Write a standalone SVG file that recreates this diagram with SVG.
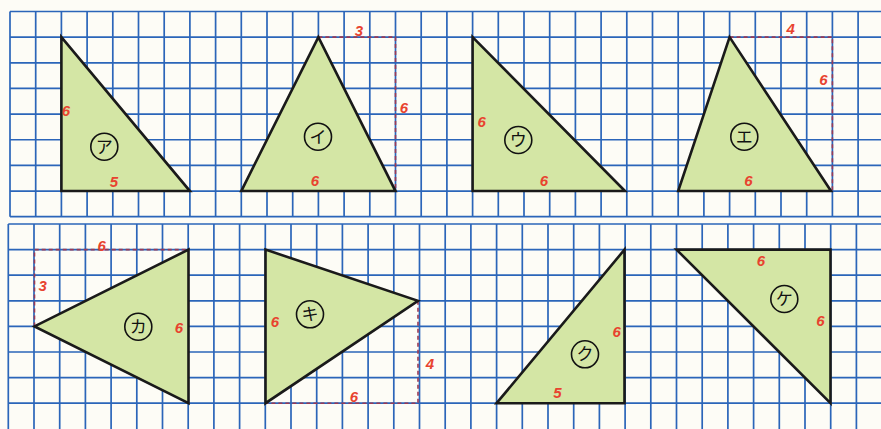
<svg xmlns="http://www.w3.org/2000/svg" width="881" height="429" viewBox="0 0 881 429">
<style>
.grid{fill:none;stroke:#2b65b9;stroke-width:1.7}
.tri{fill:#d4e6a5;stroke:#1a1a1a;stroke-width:2.6;stroke-linejoin:miter}
.num{font-family:"Liberation Sans",Arial,sans-serif;font-size:15px;font-weight:bold;font-style:italic;fill:#e8432f;text-anchor:middle}
.ring{fill:none;stroke:#111;stroke-width:1.6}
.kana{font-family:"Noto Sans CJK JP","Noto Sans",sans-serif;font-size:17px;fill:#111;text-anchor:middle}
.guide{fill:none;stroke:#9a3a55;stroke-width:1.6;stroke-dasharray:4 3}
</style>
<rect x="0" y="0" width="881" height="429" fill="#fdfcf6"/>
<g id="grid-top" class="grid">
<path d="M10,11.5H881M10,37.15H881M10,62.8H881M10,88.45H881M10,114.1H881M10,139.75H881M10,165.4H881M10,191.05H881M10,216.7H881"/>
<path d="M10,11.5V216.7M35.7,11.5V216.7M61.4,11.5V216.7M87.1,11.5V216.7M112.8,11.5V216.7M138.5,11.5V216.7M164.2,11.5V216.7M189.9,11.5V216.7M215.6,11.5V216.7M241.3,11.5V216.7M267,11.5V216.7M292.7,11.5V216.7M318.4,11.5V216.7M344.1,11.5V216.7M369.8,11.5V216.7M395.5,11.5V216.7M421.2,11.5V216.7M446.9,11.5V216.7M472.6,11.5V216.7M498.3,11.5V216.7M524,11.5V216.7M549.7,11.5V216.7M575.4,11.5V216.7M601.1,11.5V216.7M626.8,11.5V216.7M652.5,11.5V216.7M678.2,11.5V216.7M703.9,11.5V216.7M729.6,11.5V216.7M755.3,11.5V216.7M781,11.5V216.7M806.7,11.5V216.7M832.4,11.5V216.7M858.1,11.5V216.7"/>
</g>
<g id="grid-bottom" class="grid">
<path d="M8.3,224H881M8.3,249.6H881M8.3,275.2H881M8.3,300.8H881M8.3,326.4H881M8.3,352H881M8.3,377.6H881M8.3,403.2H881"/>
<path d="M8.3,224V429M34,224V429M59.7,224V429M85.4,224V429M111.1,224V429M136.8,224V429M162.5,224V429M188.2,224V429M213.9,224V429M239.6,224V429M265.3,224V429M291,224V429M316.7,224V429M342.4,224V429M368.1,224V429M393.8,224V429M419.5,224V429M445.2,224V429M470.9,224V429M496.6,224V429M522.3,224V429M548,224V429M573.7,224V429M599.4,224V429M625.1,224V429M650.8,224V429M676.5,224V429M702.2,224V429M727.9,224V429M753.6,224V429M779.3,224V429M805,224V429M830.7,224V429M856.4,224V429"/>
</g>
<g id="guides">
<path class="guide" d="M318.4,37.15H395.5V191.05"/>
<path class="guide" d="M729.6,37.15H832.4V191.05"/>
<path class="guide" d="M34.5,326.4V249.6H188.5"/>
<path class="guide" d="M418,300.8V403.2H265.5"/>
</g>
<g id="tri-a">
<polygon class="tri" points="61.4,37.15 61.4,191.05 189.9,191.05"/>
<text class="num" x="66" y="115.5">6</text>
<text class="num" x="114" y="186.5">5</text>
<circle class="ring" cx="104.3" cy="146.7" r="13.5"/>
<text class="kana" x="104.3" y="152.7">ア</text>
</g>
<g id="tri-i">
<polygon class="tri" points="318.4,37.15 241.3,191.05 395.5,191.05"/>
<text class="num" x="315" y="185.5">6</text>
<text class="num" x="359" y="36">3</text>
<text class="num" x="404" y="112.5">6</text>
<circle class="ring" cx="318" cy="136.7" r="13.5"/>
<text class="kana" x="318" y="142.7">イ</text>
</g>
<g id="tri-u">
<polygon class="tri" points="472.6,37.15 472.6,191.05 625,191.05"/>
<text class="num" x="481.7" y="127">6</text>
<text class="num" x="544" y="185.5">6</text>
<circle class="ring" cx="518.3" cy="140" r="13.5"/>
<text class="kana" x="518.3" y="146">ウ</text>
</g>
<g id="tri-e">
<polygon class="tri" points="729.6,37.15 678.2,191.05 831,191.05"/>
<text class="num" x="748.3" y="186">6</text>
<text class="num" x="790.7" y="33.5">4</text>
<text class="num" x="823.3" y="84.5">6</text>
<circle class="ring" cx="744.3" cy="136.7" r="13.5"/>
<text class="kana" x="744.3" y="142.7">エ</text>
</g>
<g id="tri-ka">
<polygon class="tri" points="34.5,326.4 188.5,249.6 188.5,403.2"/>
<text class="num" x="101.7" y="251">6</text>
<text class="num" x="42.7" y="290.5">3</text>
<text class="num" x="179" y="333">6</text>
<circle class="ring" cx="138.3" cy="326.7" r="13.5"/>
<text class="kana" x="138.3" y="332.7">カ</text>
</g>
<g id="tri-ki">
<polygon class="tri" points="265.5,249.6 265.5,403.2 418,300.8"/>
<text class="num" x="275" y="327">6</text>
<text class="num" x="430" y="368.5">4</text>
<text class="num" x="354" y="401.5">6</text>
<circle class="ring" cx="310" cy="314.3" r="13.5"/>
<text class="kana" x="310" y="320.3">キ</text>
</g>
<g id="tri-ku">
<polygon class="tri" points="496.6,403.2 624.5,249.6 624.5,403.2"/>
<text class="num" x="616.7" y="337">6</text>
<text class="num" x="557.3" y="398">5</text>
<circle class="ring" cx="585" cy="354.3" r="13.5"/>
<text class="kana" x="585" y="360.3">ク</text>
</g>
<g id="tri-ke">
<polygon class="tri" points="676.5,249.6 830.5,249.6 830.5,403.2"/>
<text class="num" x="761" y="265.5">6</text>
<text class="num" x="820.3" y="325.5">6</text>
<circle class="ring" cx="784.3" cy="299" r="13.5"/>
<text class="kana" x="784.3" y="305">ケ</text>
</g>
</svg>
